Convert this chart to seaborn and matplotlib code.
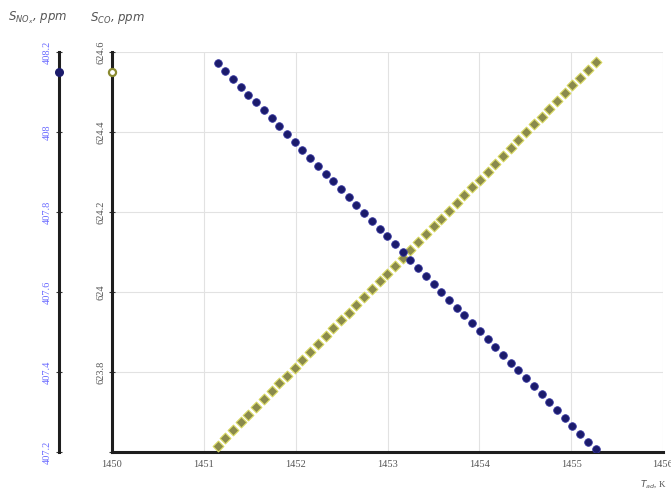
import matplotlib
matplotlib.use("Agg")
import matplotlib.pyplot as plt
import seaborn as sns
import pandas as pd

# ---- data ----
t_ad = [1451.150, 1451.234, 1451.318, 1451.402, 1451.486, 1451.570, 1451.654, 1451.738, 1451.822, 1451.906,
        1451.990, 1452.074, 1452.158, 1452.242, 1452.326, 1452.410, 1452.494, 1452.578, 1452.662, 1452.746,
        1452.830, 1452.914, 1452.998, 1453.082, 1453.166, 1453.250, 1453.334, 1453.418, 1453.502, 1453.586,
        1453.670, 1453.754, 1453.838, 1453.922, 1454.006, 1454.090, 1454.174, 1454.258, 1454.342, 1454.426,
        1454.510, 1454.594, 1454.678, 1454.762, 1454.846, 1454.930, 1455.014, 1455.098, 1455.182, 1455.266]

s_nox = [408.172, 408.152, 408.133, 408.113, 408.093, 408.074, 408.054, 408.034, 408.014, 407.995,
         407.975, 407.955, 407.936, 407.916, 407.896, 407.877, 407.857, 407.837, 407.817, 407.798,
         407.778, 407.758, 407.739, 407.719, 407.699, 407.680, 407.660, 407.640, 407.620, 407.601,
         407.581, 407.561, 407.542, 407.522, 407.502, 407.483, 407.463, 407.443, 407.423, 407.404,
         407.384, 407.364, 407.345, 407.325, 407.305, 407.286, 407.266, 407.246, 407.226, 407.207]

s_co = [623.615, 623.635, 623.654, 623.674, 623.693, 623.713, 623.733, 623.752, 623.772, 623.791,
        623.811, 623.831, 623.850, 623.870, 623.889, 623.909, 623.929, 623.948, 623.968, 623.987,
        624.007, 624.027, 624.046, 624.066, 624.085, 624.105, 624.125, 624.144, 624.164, 624.183,
        624.203, 624.223, 624.242, 624.262, 624.281, 624.301, 624.321, 624.340, 624.360, 624.379,
        624.399, 624.419, 624.438, 624.458, 624.477, 624.497, 624.517, 624.536, 624.556, 624.575]

# current-value markers on the axes
nox_marker = [408.15]
co_marker = [624.55]

x_ticks = [1450, 1451, 1452, 1453, 1454, 1455, 1456]
x_labels = ["1450", "1451", "1452", "1453", "1454", "1455", "1456"]
co_ticks = [623.6, 623.8, 624.0, 624.2, 624.4, 624.6]
co_labels = ["", "623.8", "624", "624.2", "624.4", "624.6"]
nox_ticks = [407.2, 407.4, 407.6, 407.8, 408.0, 408.2]
nox_labels = ["407.2", "407.4", "407.6", "407.8", "408", "408.2"]

df = pd.DataFrame({"T": t_ad, "NOx": s_nox, "CO": s_co})

sns.set_theme(style="white")

W, H = 671, 493
fig = plt.figure(figsize=(W / 100, H / 100), dpi=100)
L, R, B, T = 112, 663, 452, 52
ax = fig.add_axes([L / W, 1 - B / H, (R - L) / W, (B - T) / H])
ax.set_facecolor("none")

ax.set_xlim(1450, 1456)
ax.set_ylim(623.6, 624.6)
ax.set_xticks(x_ticks)
ax.set_xticklabels(x_labels)
ax.set_yticks(co_ticks)
ax.set_yticklabels(co_labels, rotation=90, va="center")
ax.grid(True, color="#e2e2e2", linewidth=0.8)
ax.set_axisbelow(True)
for s in ["top", "right"]:
    ax.spines[s].set_visible(False)
for s in ["left", "bottom"]:
    ax.spines[s].set_color("#1e1e1e")
    ax.spines[s].set_linewidth(2.2)
ax.tick_params(axis="both", direction="inout", length=4, width=0.8, color="#333333",
               labelsize=7.5, labelcolor="#555555")
for lab in ax.get_xticklabels() + ax.get_yticklabels():
    lab.set_family("Liberation Serif")
ax.tick_params(axis="y", pad=3)

# NOx axis on the far left
ax2 = ax.twinx()
ax2.set_ylim(407.2, 408.2)
ax2.yaxis.set_ticks_position("left")
ax2.yaxis.set_label_position("left")
ax2.spines["left"].set_position(("axes", (59 - L) / (R - L)))
ax2.spines["left"].set_color("#1e1e1e")
ax2.spines["left"].set_linewidth(2.2)
for s in ["top", "right", "bottom"]:
    ax2.spines[s].set_visible(False)
ax2.set_yticks(nox_ticks)
ax2.set_yticklabels(nox_labels, rotation=90, va="center")
ax2.tick_params(axis="y", direction="inout", length=4, width=0.8, color="#333333",
                labelsize=7.5, labelcolor="#6a6aff", pad=3)
for lab in ax2.get_yticklabels():
    lab.set_family("Liberation Serif")
ax2.grid(False)

# series
sns.scatterplot(data=df, x="T", y="CO", ax=ax, marker="D", s=30,
                color="#8a8a4c", edgecolor="#d8d860", linewidth=0.8, zorder=3, legend=False)
sns.scatterplot(data=df, x="T", y="NOx", ax=ax2, marker="o", s=30,
                color="#1b1b6b", edgecolor="#34349e", linewidth=0.6, zorder=3, legend=False)

# markers on the axes
ax.scatter([1450], co_marker, marker="o", s=26, facecolor="white", edgecolor="#8a8a30",
           linewidth=1.6, zorder=5, clip_on=False)
ax2.scatter([1450 + 6 * (59 - L) / (R - L)], nox_marker, marker="o", s=30,
            color="#1b1b6b", zorder=5, clip_on=False)
ax2.set_xlim(1450, 1456)

ax.set_xlabel("")
ax.set_ylabel("")
ax2.set_ylabel("")

# axis titles
fig.text(8 / W, 1 - 18 / H, r"$S_{NO_x}$, ppm", fontsize=8.5, color="#555555",
         style="italic", va="center", ha="left")
fig.text(90 / W, 1 - 18 / H, r"$S_{CO}$, ppm", fontsize=8.5, color="#555555",
         style="italic", va="center", ha="left")
fig.text(640 / W, 1 - 484 / H, r"$T_{ad}$, K", fontsize=6.5, color="#555555",
         family="Liberation Serif", va="center", ha="left")

fig.savefig("out.png", dpi=100)
